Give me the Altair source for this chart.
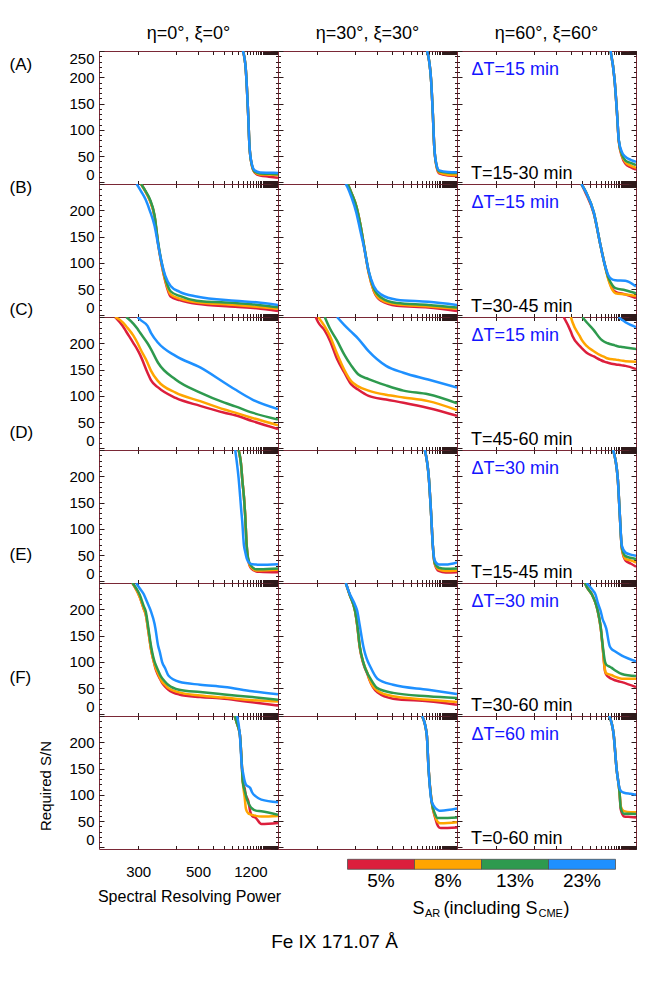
import altair as alt
import pandas as pd

# ---------------- data (resolving power R, required S/N per S_AR level) ----------------
A1_R = [999, 1067, 1130, 1171, 1241, 1348, 1618, 2387, 4545]
A1_5 = [250, 215, 131, 68, 34, 19, 13, 11, 9]
A1_8 = [250, 215, 131, 68, 34, 20, 15, 15, 13.5]
A1_13 = [250, 215, 131, 68, 35, 21, 17, 16.5, 15.5]
A1_23 = [250, 215, 131, 68, 36, 23, 19, 18.5, 18]

A2_R = [1130, 1253, 1319, 1377, 1466, 1618, 2387, 4545]
A2_5 = [250, 196, 131, 68, 33, 17, 13, 12]
A2_8 = [250, 196, 131, 68, 34, 19, 14.5, 13.5]
A2_13 = [250, 196, 131, 68, 35, 21, 18.5, 18]
A2_23 = [250, 196, 131, 68, 36, 23, 20, 19.5]

A3_R = [1272, 1433, 1558, 1658, 1869, 2179, 2941, 4545]
A3_5 = [250, 196, 131, 78, 50, 36, 29, 24.5]
A3_8 = [250, 196, 131, 79, 52, 39, 32, 28]
A3_13 = [250, 196, 131, 80, 54, 42, 37, 33]
A3_23 = [250, 196, 131, 81, 58, 49, 43, 39]

B1_R = [297, 306, 316, 325, 337, 346, 356, 366, 383, 415, 492, 853, 1433, 4545]
B1_5 = [None, 250, 235, 220, 188, 137, 96, 66, 36, 29, 22, 16.5, 13.5, 8.5]
B1_8 = [None, 250, 235, 220, 188, 137, 97, 68, 40, 32, 25, 20, 16.5, 12.5]
B1_13 = [None, 250, 236, 222, 190, 140, 100, 72, 46, 37, 28, 23.5, 20.5, 15.5]
B1_23 = [250, 236, 220, 200, 170, 135, 100, 76, 56, 45, 36, 28, 25, 20]

B2_R = [371, 377, 389, 406, 422, 436, 457, 482, 523, 640, 1166, 4545]
B2_5 = [None, 250, 233, 208, 172, 134, 82, 47, 28, 18.5, 15, 8.5]
B2_8 = [None, 250, 233, 208, 172, 134, 82, 48, 30, 21, 17, 12.5]
B2_13 = [None, 250, 233, 208, 172, 135, 85, 52, 34, 23.5, 20, 15]
B2_23 = [250, 243, 225, 196, 160, 131, 85, 56, 40, 30, 26, 20]

B3_R = [697, 748, 862, 995, 1081, 1199, 1348, 1475, 2179, 4545]
B3_5 = [250, 232, 194, 131, 100, 70, 50, 45, 40, 33]
B3_8 = [250, 235, 196, 131, 100, 68, 48, 42, 40, 37]
B3_13 = [250, 235, 196, 131, 100, 72, 57, 52, 48, 42]
B3_23 = [250, 235, 196, 131, 100, 76, 68, 67, 66, 55]

C1_R = [260, 272, 278, 291, 299, 304, 320, 328, 346, 400, 512, 708, 853, 1265, 4545]
C1_5 = [250, 233, 222, 200, 187, 178, 144, 130, 116, 96, 81, 68, 63, 52, 37]
C1_8 = [250, 240, 232, 214, 200, 190, 163, 148, 128, 106, 90, 74, 68, 58, 44]
C1_13 = [None, None, 250, 237, 227, 220, 200, 189, 163, 131, 106, 87, 80, 68, 55]
C1_23 = [None, None, None, None, 250, 245, 233, 220, 201, 176, 154, 125, 112, 93, 75]

C2_R = [297, 302, 316, 328, 346, 366, 388, 413, 457, 556, 708, 1160, 4545]
C2_5 = [250, 240, 224, 205, 170, 145, 122, 112, 100, 93, 87, 77, 62]
C2_8 = [None, 250, 232, 214, 180, 150, 128, 118, 110, 102, 97, 90, 73]
C2_13 = [None, None, 250, 228, 205, 179, 158, 141, 132, 120, 110, 103, 86]
C2_23 = [None, None, None, None, 250, 235, 222, 209, 185, 157, 144, 131, 116]

C3_R = [546, 599, 612, 678, 706, 758, 862, 995, 1081, 1182, 1449, 1638, 1869, 2198, 4545]
C3_5 = [250, 222, 214, 195, 190, 182, 175, 168, 165, 163, 160, 159, 158, 157, 151]
C3_8 = [None, 250, 240, 214, 205, 195, 185, 177, 174, 171, 169, 168, 167, 166, 165]
C3_13 = [None, None, None, None, 250, 240, 225, 208, 203, 200, 196, 194, 193, 192, 189]
C3_23 = [None, None, None, None, None, None, None, None, None, None, None, 250, 245, 240, 231]

D1_R = [853, 912, 967, 983, 1023, 1048, 1091, 1130, 1218, 1418, 1597, 4545]
D1_5 = [None, 250, 215, 196, 160, 131, 68, 41, 25, 19, 18.5, 17.5]
D1_8 = [None, 250, 215, 196, 160, 131, 68, 42, 27, 21, 21, 22]
D1_13 = [None, 250, 215, 196, 160, 131, 68, 44, 30, 23, 23, 24.5]
D1_23 = [250, 196, 131, 115, 68, 58, 44, 38, 33, 32, 31.5, 32.5]

D2_R = [1067, 1182, 1253, 1319, 1393, 1597, 2123, 4545]
D2_5 = [250, 196, 131, 68, 34, 20, 17, 17.5]
D2_8 = [250, 196, 131, 68, 35, 23, 20, 21]
D2_13 = [250, 196, 131, 68, 36, 26, 24, 24.5]
D2_23 = [250, 196, 131, 68, 40, 32, 32, 36]

D3_R = [1370, 1597, 1715, 1869, 2198, 2941, 4545]
D3_5 = [250, 196, 131, 62, 40, 34, 28]
D3_8 = [250, 196, 131, 63, 43, 40, 36]
D3_13 = [250, 196, 131, 65, 48, 45, 42.5]
D3_23 = [250, 196, 131, 68, 55, 51, 49]

E1_R = [289, 296, 303, 312, 316, 322, 328, 337, 339, 346, 351, 357, 366, 376, 413, 512, 708, 1265, 4545]
E1_5 = [250, 238, 224, 200, 190, 158, 125, 94, 88, 75, 68, 60, 53, 47, 38, 33, 30, 23, 17]
E1_8 = [250, 238, 224, 200, 190, 158, 125, 95, 90, 78, 70, 62, 56, 50, 42, 36, 32, 27, 24.5]
E1_13 = [250, 240, 228, 205, 196, 164, 131, 100, 96, 84, 76, 69, 62, 56, 47, 42.5, 38, 33, 28]
E1_23 = [None, 250, 240, 228, 220, 208, 196, 172, 164, 131, 118, 100, 88, 74, 62, 56.5, 52, 44, 38.5]

E2_R = [371, 383, 402, 410, 419, 433, 454, 460, 502, 609, 1160, 4545]
E2_5 = [250, 228, 196, 168, 128, 98, 74, 67, 42, 30, 25, 18.5]
E2_8 = [250, 228, 196, 168, 130, 100, 76, 68, 45, 34.5, 28, 23.5]
E2_13 = [250, 228, 196, 170, 131, 100, 76, 72, 50, 41, 34.5, 31]
E2_23 = [250, 230, 208, 196, 170, 131, 100, 95, 68, 56.5, 47, 39]

E3_R = [737, 758, 833, 892, 935, 995, 1036, 1100, 1130, 1235, 1299, 1449, 1869, 4545]
E3_5 = [250, 243, 228, 212, 196, 164, 131, 82, 76, 70, 68, 65, 61.5, 52]
E3_8 = [250, 243, 228, 212, 196, 164, 131, 84, 78, 76, 75, 72, 68, 68]
E3_13 = [250, 243, 228, 212, 196, 166, 134, 100, 95, 91, 89, 84, 77, 73]
E3_23 = [None, 250, 238, 228, 212, 196, 182, 170, 164, 131, 125, 120, 112, 101]

F1_R = [844, 885, 935, 979, 995, 1040, 1067, 1086, 1135, 1193, 1253, 1400, 1692, 4545]
F1_5 = [250, 235, 215, 151, 126, 112, 100, 96, 88, 68, 60, 56, 44.5, 46.5]
F1_8 = [250, 235, 215, 151, 126, 95, 75, 70, 65, 63, 62, 60, 59, 60]
F1_13 = [250, 235, 215, 151, 126, 108, 100, 94, 85, 78, 74, 70, 69, 62]
F1_23 = [None, 250, 215, 151, 145, 126, 120, 118, 116, 113, 105, 97, 91, 86]

F2_R = [1003, 1119, 1171, 1272, 1425, 1510, 1618, 1727, 4545]
F2_5 = [250, 215, 151, 88, 55, 44, 38, 37, 38]
F2_8 = [250, 215, 151, 88, 58, 50, 46.5, 46, 48]
F2_13 = [250, 215, 151, 88, 62, 56, 56, 56, 57]
F2_23 = [250, 215, 151, 88, 75, 72, 70, 70, 74]

F3_R = [1222, 1393, 1529, 1704, 1789, 2053, 2941, 4545]
F3_5 = [250, 215, 151, 105, 72, 59, 58, 57]
F3_8 = [250, 215, 151, 105, 78, 69, 67, 67]
F3_13 = [250, 215, 151, 105, 75, 64, 64, 63.5]
F3_23 = [250, 215, 151, 113, 108, 104, 102, 100.5]

SAR_LABELS = ["5%", "8%", "13%", "23%"]
SAR_COLORS = ["#dc1e3c", "#ffa500", "#2e9a4e", "#1e90ff"]
ROW_TAGS = ["(A)", "(B)", "(C)", "(D)", "(E)", "(F)"]
COL_TITLES = ["η=0°, ξ=0°", "η=30°, ξ=30°", "η=60°, ξ=60°"]
DT_TEXT = ["ΔT=15 min", "ΔT=15 min", "ΔT=15 min", "ΔT=30 min", "ΔT=30 min", "ΔT=60 min"]
T_TEXT = ["T=15-30 min", "T=30-45 min", "T=45-60 min", "T=15-45 min", "T=30-60 min", "T=0-60 min"]
X_TICKS_R = list(range(300, 4600, 100))
X_LABEL_R = [300, 500, 1200]
Y_TICKS = list(range(0, 251, 10))
Y_TITLE = "Required S/N"
X_TITLE = "Spectral Resolving Power"
MAIN_TITLE = "Fe IX 171.07 Å"

PANELS = [
    [(A1_R, A1_5, A1_8, A1_13, A1_23), (A2_R, A2_5, A2_8, A2_13, A2_23), (A3_R, A3_5, A3_8, A3_13, A3_23)],
    [(B1_R, B1_5, B1_8, B1_13, B1_23), (B2_R, B2_5, B2_8, B2_13, B2_23), (B3_R, B3_5, B3_8, B3_13, B3_23)],
    [(C1_R, C1_5, C1_8, C1_13, C1_23), (C2_R, C2_5, C2_8, C2_13, C2_23), (C3_R, C3_5, C3_8, C3_13, C3_23)],
    [(D1_R, D1_5, D1_8, D1_13, D1_23), (D2_R, D2_5, D2_8, D2_13, D2_23), (D3_R, D3_5, D3_8, D3_13, D3_23)],
    [(E1_R, E1_5, E1_8, E1_13, E1_23), (E2_R, E2_5, E2_8, E2_13, E2_23), (E3_R, E3_5, E3_8, E3_13, E3_23)],
    [(F1_R, F1_5, F1_8, F1_13, F1_23), (F2_R, F2_5, F2_8, F2_13, F2_23), (F3_R, F3_5, F3_8, F3_13, F3_23)],
]

# ---------------- styling ----------------
W, H = 179, 133
FONT = "Liberation Sans"
FRAME = "#7a2836"
TICKC = "#2e1a1a"
ROW_TAG_Y = [14, 3.6, -7, -17.2, -27.6, -38]

xscale = alt.Scale(domain=[0.22, 4.205], reverse=True, nice=False, zero=False)
yscale = alt.Scale(domain=[-3, 250], nice=False, zero=False)
cscale = alt.Scale(domain=SAR_LABELS, range=SAR_COLORS)
xvals = [1000.0 / r for r in X_TICKS_R]
XLBL = ("indexof([" + ",".join(str(v) for v in X_LABEL_R) + "], round(1000/datum.value)) >= 0"
        " ? '' + round(1000/datum.value) : ''")
YTICK = {"expr": "datum.value % 50 === 0 ? -5 : -2.5"}
XTICK = {"expr": "-3.5"}


def text_layer(txt, x, y, size, color="black", align="left", angle=0):
    df = pd.DataFrame({"t": [txt]})
    kw = dict(align=align, baseline="middle", font=FONT, fontSize=size, color=color)
    if angle:
        kw["angle"] = angle
    return alt.Chart(df).mark_text(**kw).encode(text="t:N", x=alt.value(x), y=alt.value(y))


def colorbar_layers():
    cb_df = pd.DataFrame({"SAR": SAR_LABELS, "i": [0, 1, 2, 3]})
    cbscale = alt.Scale(domain=[0, 4], range=[248.5, 516.5], nice=False, zero=False)
    cb_base = alt.Chart(cb_df).transform_calculate(i2="datum.i + 1", c="datum.i + 0.5")
    bar = cb_base.mark_rect(stroke="#505050", strokeWidth=0.8).encode(
        x=alt.X("i:Q", scale=cbscale, axis=None),
        x2="i2:Q",
        y=alt.value(H + 10.3), y2=alt.value(H + 20.3),
        color=alt.Color("SAR:N", scale=cscale, legend=None),
    )
    pct = cb_base.mark_text(font=FONT, fontSize=19, baseline="middle", align="center").encode(
        x=alt.X("c:Q", scale=cbscale, axis=None),
        y=alt.value(H + 32),
        text="SAR:N",
    )
    return [
        bar, pct,
        text_layer("S", 313.5, H + 60, 18),
        text_layer("AR", 326, H + 65, 11),
        text_layer("(including S", 344.5, H + 60, 18),
        text_layer("CME", 439.5, H + 65, 11),
        text_layer(")", 464.5, H + 60, 18),
        text_layer(X_TITLE, 90.5, H + 48, 16, align="center"),
        text_layer(MAIN_TITLE, 235.5, H + 93, 19, align="center"),
    ]


def panel(ri, ci):
    R, *series = PANELS[ri][ci]
    recs = []
    for lab, vals in zip(SAR_LABELS, series):
        for r, v in zip(R, vals):
            if v is not None:
                recs.append({"R": r, "SN": v, "SAR": lab})
    df = pd.DataFrame(recs)
    base = alt.Chart(df).transform_calculate(u="1000/datum.R")

    show_x = (ri == 5 and ci == 0)
    show_y = (ci == 0)
    if ri == 0:
        ylab = "datum.value % 50 === 0 ? '' + datum.value : ''"
    else:
        ylab = "datum.value % 50 === 0 && datum.value < 250 ? '' + datum.value : ''"

    common = dict(domain=False, grid=False, tickColor=TICKC, tickWidth=1,
                  labelFont=FONT, labelFontSize=15, labelColor="black", labelOverlap=False)
    xb = alt.Axis(orient="bottom", values=xvals, tickSize=XTICK, labels=show_x,
                  labelExpr=XLBL, labelFlush=False, labelPadding=19, **common)
    xt = alt.Axis(orient="top", values=xvals, tickSize=XTICK, labels=False, **common)
    yl = alt.Axis(orient="left", values=Y_TICKS, tickSize=YTICK, labels=show_y,
                  labelExpr=ylab, labelFlush=6, labelPadding=10, **common)
    yr = alt.Axis(orient="right", values=Y_TICKS, tickSize=YTICK, labels=False, **common)

    lines = base.mark_line(strokeWidth=2.5, clip=True, interpolate="monotone").encode(
        x=alt.X("u:Q", scale=xscale, axis=xb, title=None),
        y=alt.Y("SN:Q", scale=yscale, axis=yl, title=None),
        color=alt.Color("SAR:N", scale=cscale, legend=None),
        order=alt.Order("R:Q"),
    )
    ghost = base.mark_line(strokeOpacity=0, clip=True).encode(
        x=alt.X("u:Q", scale=xscale, axis=xt, title=None),
        y=alt.Y("SN:Q", scale=yscale, axis=yr, title=None),
        detail="SAR:N",
    )
    layers = [lines, ghost]
    if ci == 0:
        layers.append(text_layer(ROW_TAGS[ri], -89.5, ROW_TAG_Y[ri], 17))
    if ri == 0:
        layers.append(text_layer(COL_TITLES[ci], W / 2, -17, 18, align="center"))
    if ci == 2:
        layers.append(text_layer(DT_TEXT[ri], 14.5, 19, 18, color="#1414ff"))
        layers.append(text_layer(T_TEXT[ri], 14, 122.5, 18))
    if ri == 5 and ci == 0:
        layers.append(text_layer(Y_TITLE, -53.5, 70, 15, align="center", angle=270))
        layers.extend(colorbar_layers())
    return (alt.layer(*layers)
            .resolve_scale(x="independent", y="independent")
            .resolve_axis(x="independent", y="independent")
            .properties(width=W, height=H))


panels = [panel(ri, ci) for ri in range(6) for ci in range(3)]

chart = (alt.concat(*panels, columns=3, spacing=0, bounds="flush")
         .properties(padding={"left": 1, "top": 16, "right": 5, "bottom": 5})
         .configure(font=FONT)
         .configure_view(stroke=FRAME, strokeWidth=1))

chart.save("out.html", embed_options={"renderer": "svg", "actions": False})
